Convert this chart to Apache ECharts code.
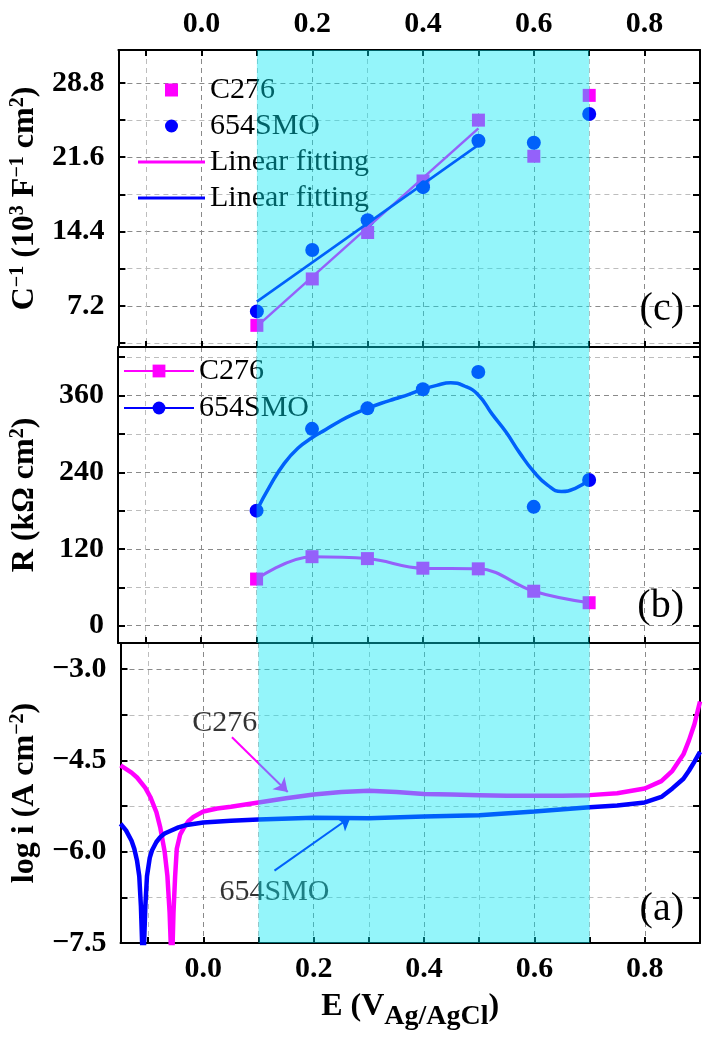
<!DOCTYPE html>
<html>
<head>
<meta charset="utf-8">
<script src="https://cdn.jsdelivr.net/npm/echarts@6/dist/echarts.min.js"></script>
<style>
html, body { margin: 0; padding: 0; background: #fff; }
#chart { width: 707px; height: 1046px; }
</style>
</head>
<body>
<div id="chart"></div>
<script>
// shared potential axis (V vs Ag/AgCl)
var eTicks = [-0.1, 0, 0.1, 0.2, 0.3, 0.4, 0.5, 0.6, 0.7, 0.8];
var eLabels = [0, 0.2, 0.4, 0.6, 0.8];
var bandRange = [0.1, 0.7];

// (c) inverse capacitance, 10^3 F^-1 cm^2
var capE = [0.1, 0.2, 0.3, 0.4, 0.5, 0.6, 0.7];
var capC276 = [5.3, 9.8, 14.3, 19.3, 25.2, 21.7, 27.6];
var capSMO = [6.65, 12.6, 15.5, 18.7, 23.2, 23.0, 25.8];
var fitE = [0.1, 0.5];
var fitC276 = [5.2, 24.4];
var fitSMO = [7.6, 22.8];
var capTicks = [3.6, 7.2, 10.8, 14.4, 18, 21.6, 25.2, 28.8];
var capLabels = [7.2, 14.4, 21.6, 28.8];

// (b) film resistance, kOhm cm^2
var resE = [0.1, 0.2, 0.3, 0.4, 0.5, 0.6, 0.7];
var resC276 = [73, 108, 105, 90, 89, 54, 36];
var resSMO = [180, 308, 340, 370, 397, 186, 228];
var smoCurveE = [0.1, 0.125, 0.15, 0.175, 0.2, 0.225, 0.25, 0.275, 0.3, 0.325, 0.35, 0.375, 0.4, 0.425, 0.45, 0.475, 0.5, 0.525, 0.55, 0.575, 0.6, 0.625, 0.65, 0.675, 0.7];
var smoCurveR = [180, 220, 254, 278, 294, 307, 320, 331, 340, 348, 355, 362, 370, 376, 380, 375, 361, 331, 303, 270, 241, 220, 210, 215, 228];
var resTicks = [0, 60, 120, 180, 240, 300, 360, 420];
var resLabels = [0, 120, 240, 360];

// (a) polarization curves, log i
var polC276E = [-0.15, -0.13, -0.12, -0.105, -0.096, -0.085, -0.078, -0.07, -0.065, -0.061, -0.057, -0.054, -0.051, -0.048, -0.042, -0.036, -0.027, -0.018, 0, 0.025, 0.05, 0.1, 0.15, 0.2, 0.25, 0.3, 0.35, 0.4, 0.45, 0.5, 0.55, 0.6, 0.65, 0.7, 0.75, 0.8, 0.83, 0.85, 0.87, 0.88, 0.89, 0.9];
var polC276 = [-4.58, -4.70, -4.78, -4.95, -5.10, -5.35, -5.60, -6.0, -6.4, -7.0, -8.0, -7.0, -6.4, -5.95, -5.72, -5.62, -5.50, -5.43, -5.34, -5.29, -5.26, -5.19, -5.12, -5.06, -5.02, -5.00, -5.02, -5.05, -5.06, -5.07, -5.08, -5.08, -5.08, -5.07, -5.04, -4.96, -4.84, -4.67, -4.40, -4.17, -3.90, -3.53];
var polSMOE = [-0.15, -0.14, -0.13, -0.125, -0.12, -0.116, -0.113, -0.109, -0.105, -0.102, -0.097, -0.093, -0.085, -0.078, -0.07, -0.06, -0.045, -0.03, 0, 0.05, 0.1, 0.2, 0.3, 0.4, 0.5, 0.6, 0.7, 0.75, 0.8, 0.83, 0.85, 0.87, 0.88, 0.89, 0.9];
var polSMO = [-5.54, -5.65, -5.82, -5.95, -6.15, -6.4, -6.9, -8.0, -6.9, -6.4, -6.1, -5.98, -5.84, -5.76, -5.70, -5.66, -5.60, -5.56, -5.52, -5.49, -5.47, -5.44, -5.45, -5.42, -5.40, -5.34, -5.27, -5.24, -5.19, -5.10, -4.96, -4.80, -4.67, -4.52, -4.36];
var logTicks = [-7.5, -6.75, -6, -5.25, -4.5, -3.75, -3];
var logLabels = [-7.5, -6, -4.5, -3];

// arrows and their captions in (a)
var arrowC276 = [[0.052, -4.12], [0.153, -5.02]];
var arrowSMO = [[0.129, -6.31], [0.267, -5.43]];
var noteC276 = [0.039, -3.89];
var noteSMO = [0.129, -6.67];

var FONT = "'Liberation Serif', 'Times New Roman', serif";
var MAG = '#FF00FF';
var BLUE = '#0000FF';
var BAND = 'rgba(0, 231, 243, 0.42)';
var LINE_ICON = 'path://M0,0L67,0L67,3L0,3Z';
var SQUARE_ICON = 'path://M0,0L10,0L10,10L0,10Z';

function zip(xs, ys) {
    return xs.map(function (x, i) { return [x, ys[i]]; });
}
function num(v, d) {
    return (v < 0 ? '\u2212' : '') + Math.abs(v).toFixed(d);
}

var tickLabelStyle = { fontFamily: FONT, fontSize: 30, fontWeight: 'bold', color: '#000' };
var gridLine = function (colors) {
    return { show: true, lineStyle: { color: colors, type: [5, 4], width: 1 } };
};
var MINOR_FIRST = ['#bdbdbd', '#8a8a8a'];
var MAJOR_FIRST = ['#8a8a8a', '#bdbdbd'];

function xAxisDef(grid, position, withLabels, split) {
    return {
        type: 'value', gridIndex: grid, position: position, min: -0.15, max: 0.9,
        axisLine: { show: true, onZero: false, lineStyle: { color: '#000', width: 2 } },
        axisTick: { show: true, inside: true, length: 6, customValues: eTicks, lineStyle: { color: '#000', width: 2 } },
        axisLabel: Object.assign({ show: withLabels, customValues: eLabels, margin: 11,
            formatter: function (v) { return num(v, 1); } }, tickLabelStyle),
        splitLine: split ? gridLine(MINOR_FIRST) : { show: false }
    };
}
function yAxisDef(grid, position, min, max, ticks, labels, digits, colors, name) {
    var left = position === 'left';
    var ax = {
        type: 'value', gridIndex: grid, position: position, min: min, max: max,
        axisLine: { show: true, onZero: false, lineStyle: { color: '#000', width: 2 } },
        axisTick: { show: true, inside: true, length: 7, customValues: ticks, lineStyle: { color: '#000', width: 2 } },
        axisLabel: Object.assign({ show: left, customValues: labels, margin: 14,
            formatter: function (v) { return num(v, digits); } }, tickLabelStyle),
        splitLine: left ? gridLine(colors) : { show: false }
    };
    if (left && name) {
        ax.name = name;
        ax.nameLocation = 'middle';
        ax.nameGap = 76;
        ax.nameTextStyle = {
            fontFamily: FONT, fontSize: 32, fontWeight: 'bold', color: '#000',
            rich: {
                b: { fontFamily: FONT, fontSize: 32, fontWeight: 'bold', color: '#000' },
                s: { fontFamily: FONT, fontSize: 20, fontWeight: 'bold', color: '#000', padding: [0, 0, 14, 0] }
            }
        };
    }
    return ax;
}
function bandSeries(xi, yi) {
    return {
        type: 'line', xAxisIndex: xi, yAxisIndex: yi, data: [], silent: true, zlevel: 1, z: 10,
        markArea: { silent: true, zlevel: 1, z: 10, itemStyle: { color: BAND },
            data: [[{ xAxis: bandRange[0] }, { xAxis: bandRange[1] }]] }
    };
}

var option = {
    animation: false,
    backgroundColor: '#fff',
    grid: [
        { left: 116, right: 7, top: 50, height: 297 },
        { left: 116, right: 7, top: 347, height: 296 },
        { left: 116, right: 7, top: 643, height: 300 }
    ],
    title: [
        { text: '(c)', right: 18, top: 284, textStyle: { fontFamily: FONT, fontSize: 40, fontWeight: 'normal', color: '#000' } },
        { text: '(b)', right: 18, top: 581, textStyle: { fontFamily: FONT, fontSize: 40, fontWeight: 'normal', color: '#000' } },
        { text: '(a)', right: 18, top: 884, textStyle: { fontFamily: FONT, fontSize: 40, fontWeight: 'normal', color: '#000' } }
    ],
    legend: [
        {
            orient: 'vertical', left: 133, top: 70, itemWidth: 67, itemHeight: 13, itemGap: 6,
            selectedMode: false,
            textStyle: { fontFamily: FONT, fontSize: 30, color: '#000' },
            data: [{ name: 'C276', icon: SQUARE_ICON }, '654SMO',
                { name: 'Linear fitting', icon: LINE_ICON }, { name: 'Linear fitting ', icon: LINE_ICON }]
        },
        {
            orient: 'vertical', left: 118, top: 351, itemWidth: 70, itemHeight: 16, itemGap: 7,
            selectedMode: false,
            textStyle: { fontFamily: FONT, fontSize: 30, color: '#000' },
            data: ['C276 ', '654SMO ']
        }
    ],
    xAxis: [
        xAxisDef(0, 'bottom', false, true),
        xAxisDef(0, 'top', true, false),
        xAxisDef(1, 'bottom', false, true),
        Object.assign(xAxisDef(2, 'bottom', true, true), {
            name: '{m|E (V}{s|Ag/AgCl}{m|)}',
            nameLocation: 'middle',
            nameGap: 40,
            nameTextStyle: {
                rich: {
                    m: { fontFamily: FONT, fontSize: 32, fontWeight: 'bold', color: '#000' },
                    s: { fontFamily: FONT, fontSize: 28, fontWeight: 'bold', color: '#000', padding: [20, 0, 0, 0] }
                }
            }
        })
    ],
    yAxis: [
        yAxisDef(0, 'left', 3.2, 32.0, capTicks, capLabels, 1, MINOR_FIRST,
            '{b|C}{s|\u22121}{b| (10}{s|3}{b| F}{s|\u22121}{b| cm}{s|2}{b|)}'),
        yAxisDef(0, 'right', 3.2, 32.0, capTicks, capLabels, 1, MINOR_FIRST),
        yAxisDef(1, 'left', -27, 436, resTicks, resLabels, 0, MAJOR_FIRST,
            '{b|R (k\u03A9 cm}{s|2}{b|)}'),
        yAxisDef(1, 'right', -27, 436, resTicks, resLabels, 0, MAJOR_FIRST),
        yAxisDef(2, 'left', -7.5, -2.57, logTicks, logLabels, 1, MAJOR_FIRST,
            '{b|log i (A cm}{s|\u22122}{b|)}'),
        yAxisDef(2, 'right', -7.5, -2.57, logTicks, logLabels, 1, MAJOR_FIRST)
    ],
    series: [
        // (c)
        { name: 'Linear fitting', type: 'line', xAxisIndex: 0, yAxisIndex: 0, data: zip(fitE, fitC276),
          symbol: 'none', lineStyle: { color: MAG, width: 2.5 }, itemStyle: { color: MAG } },
        { name: 'Linear fitting ', type: 'line', xAxisIndex: 0, yAxisIndex: 0, data: zip(fitE, fitSMO),
          symbol: 'none', lineStyle: { color: BLUE, width: 2.5 }, itemStyle: { color: BLUE } },
        { name: 'C276', type: 'scatter', xAxisIndex: 0, yAxisIndex: 0, data: zip(capE, capC276),
          symbol: 'rect', symbolSize: 13, itemStyle: { color: MAG, opacity: 1 } },
        { name: '654SMO', type: 'scatter', xAxisIndex: 0, yAxisIndex: 0, data: zip(capE, capSMO),
          symbol: 'circle', symbolSize: 14, itemStyle: { color: BLUE, opacity: 1 } },
        // (b)
        { name: 'C276 ', type: 'line', xAxisIndex: 2, yAxisIndex: 2, data: zip(resE, resC276), smooth: 0.4,
          symbol: 'rect', symbolSize: 13, lineStyle: { color: MAG, width: 3 }, itemStyle: { color: MAG } },
        { name: '654SMO ', type: 'line', xAxisIndex: 2, yAxisIndex: 2, data: zip(smoCurveE, smoCurveR), smooth: 0.5,
          symbol: 'circle', showSymbol: false, symbolSize: 13, lineStyle: { color: BLUE, width: 3.5 }, itemStyle: { color: BLUE } },
        { name: '654SMO R', type: 'scatter', xAxisIndex: 2, yAxisIndex: 2, data: zip(resE, resSMO),
          symbol: 'circle', symbolSize: 14, itemStyle: { color: BLUE, opacity: 1 } },
        // (a)
        { name: 'C276 log i', type: 'line', xAxisIndex: 3, yAxisIndex: 4, data: zip(polC276E, polC276),
          symbol: 'none', lineStyle: { color: MAG, width: 4.5 },
          markLine: { silent: true, symbol: ['none', 'arrow'], symbolSize: 13, label: { show: false },
            lineStyle: { color: MAG, width: 2, type: 'solid' },
            data: [[{ coord: arrowC276[0] }, { coord: arrowC276[1] }]] } },
        { name: '654SMO log i', type: 'line', xAxisIndex: 3, yAxisIndex: 4, data: zip(polSMOE, polSMO),
          symbol: 'none', lineStyle: { color: BLUE, width: 4.5 },
          markLine: { silent: true, symbol: ['none', 'arrow'], symbolSize: 13, label: { show: false },
            lineStyle: { color: BLUE, width: 2, type: 'solid' },
            data: [[{ coord: arrowSMO[0] }, { coord: arrowSMO[1] }]] } },
        { name: 'notes', type: 'scatter', xAxisIndex: 3, yAxisIndex: 4, symbolSize: 1, silent: true,
          itemStyle: { color: 'rgba(0,0,0,0)' },
          label: { show: true, position: 'inside', fontFamily: FONT, fontSize: 30, color: '#000',
            textBorderWidth: 0, formatter: function (p) { return p.data.label; } },
          data: [{ value: noteC276, label: 'C276' }, { value: noteSMO, label: '654SMO' }] },
        // shaded potential window on top of everything
        bandSeries(0, 0),
        bandSeries(2, 2),
        bandSeries(3, 4)
    ]
};

var chart = echarts.init(document.getElementById('chart'), null, { renderer: 'canvas' });
chart.setOption(option);
</script>
</body>
</html>
